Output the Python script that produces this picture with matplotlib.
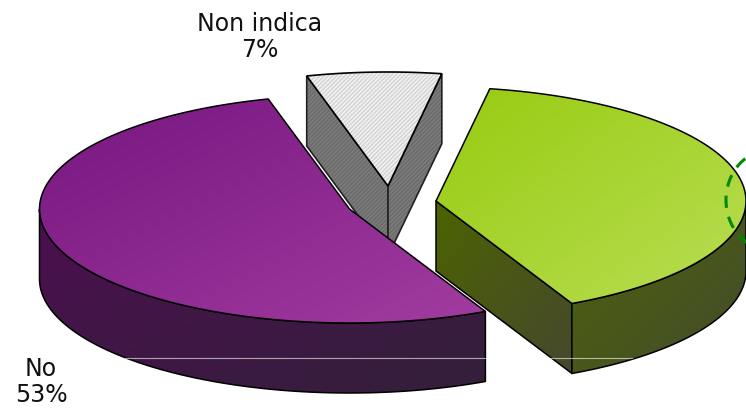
import numpy as np
import matplotlib
matplotlib.use("Agg")
import matplotlib.pyplot as plt
from matplotlib.patches import Polygon, Ellipse
from matplotlib.colors import LinearSegmentedColormap

# data
categories = ["Si", "No", "Non indica"]
shares = [40, 53, 7]
show_label = [False, True, True]

# pie geometry (pixels of the original picture)
START = 10.0
A, B, DEPTH = 310.0, 114.0, 70.0
CENTERS = [(436, 201), (349.5, 209), (388, 186)]

plt.rcParams["font.family"] = "DejaVu Sans"
plt.rcParams["hatch.linewidth"] = 1.0
fig = plt.figure(figsize=(7.46, 4.08), dpi=100)
ax = fig.add_axes([0, 0, 1, 1])
ax.set_xlim(0, 746)
ax.set_ylim(408, 0)
ax.axis("off")

edges = START + np.concatenate([[0], np.cumsum(shares)]) * 360.0 / sum(shares)


def arc(c, t0, t1, dy=0.0, n=120):
    t = np.radians(np.linspace(t0, t1, n))
    return np.column_stack([c[0] + A * np.sin(t), c[1] - B * np.cos(t) + dy])


def gradient_poly(pts, c0, c1, box):
    """Polygon filled with a diagonal gradient over box=(x0,x1,y0,y1)."""
    poly = Polygon(pts, closed=True, fc="none", ec="none")
    ax.add_patch(poly)
    gx, gy = np.meshgrid(np.linspace(0, 1, 200), np.linspace(0, 1, 200))
    cmap = LinearSegmentedColormap.from_list("g", [c0, c1])
    im = ax.imshow((gx + gy) / 2, extent=(box[0], box[1], box[3], box[2]),
                   cmap=cmap, vmin=0, vmax=1, aspect="auto", zorder=poly.get_zorder(),
                   interpolation="bilinear")
    im.set_clip_path(poly)
    ax.add_patch(Polygon(pts, closed=True, fc="none", ec="black", lw=1.1,
                         joinstyle="round"))


# --- Non indica (back, hatched) ---
c = CENTERS[2]
t0, t1 = edges[2], edges[3]
p0 = arc(c, t0, t0, n=1)[0]
p1 = arc(c, t1, t1, n=1)[0]
for p in (p0, p1):
    side = [c, p, (p[0], p[1] + DEPTH), (c[0], c[1] + DEPTH)]
    ax.add_patch(Polygon(side, closed=True, fc="#6a6a6a", ec="#7e7e7e", lw=0, hatch="////////"))
    ax.add_patch(Polygon(side, closed=True, fc="none", ec="#222222", lw=1.2))
top = np.vstack([[c], arc(c, t0, t1)])
ax.add_patch(Polygon(top, closed=True, fc="#f2f2f2", ec="#d2d2d2", lw=0, hatch="////////"))
ax.add_patch(Polygon(top, closed=True, fc="none", ec="black", lw=1.2))

# --- No (purple) ---
c = CENTERS[1]
t0, t1 = edges[1], edges[2]
front = arc(c, t0, 270)
rim = np.vstack([front, arc(c, 270, t0, DEPTH)])
gradient_poly(rim, "#4c0f50", "#33203a", (35, 490, 205, 395))
gradient_poly(np.vstack([[c], arc(c, t0, t1)]), "#761680", "#a23ca0", (35, 490, 95, 326))

# --- Si (green) ---
c = CENTERS[0]
t0, t1 = edges[0], edges[1]
p = arc(c, t1, t1, n=1)[0]
face = [c, p, (p[0], p[1] + DEPTH), (c[0], c[1] + DEPTH)]
gradient_poly(face, "#4d6400", "#45472f", (430, 578, 196, 380))
rim = np.vstack([arc(c, 90, t1), arc(c, t1, 90, DEPTH)])
gradient_poly(rim, "#4f6408", "#434a2e", (566, 752, 196, 380))
gradient_poly(np.vstack([[c], arc(c, t0, t1)]), "#97cb10", "#bade55", (430, 752, 85, 310))

# thin light rule across the lower part
ax.plot([125, 632], [358, 358], color="white", lw=0.8, alpha=0.6)

# dashed green highlight running off the right edge
ax.add_patch(Ellipse((770, 200), 88, 100, fc="none", ec="#008a00", lw=2.2,
                     ls=(0, (4.0, 3.0))))

# labels
LABEL_POS = {"No": (41, 382), "Non indica": (260, 37)}
for name, share, show in zip(categories, shares, show_label):
    if show:
        x, y = LABEL_POS[name]
        ax.text(x, y, f"{name}\n{share}%", ha="center", va="center",
                fontsize=17, color="#111111", linespacing=1.15)

fig.savefig("out.png", dpi=100)
